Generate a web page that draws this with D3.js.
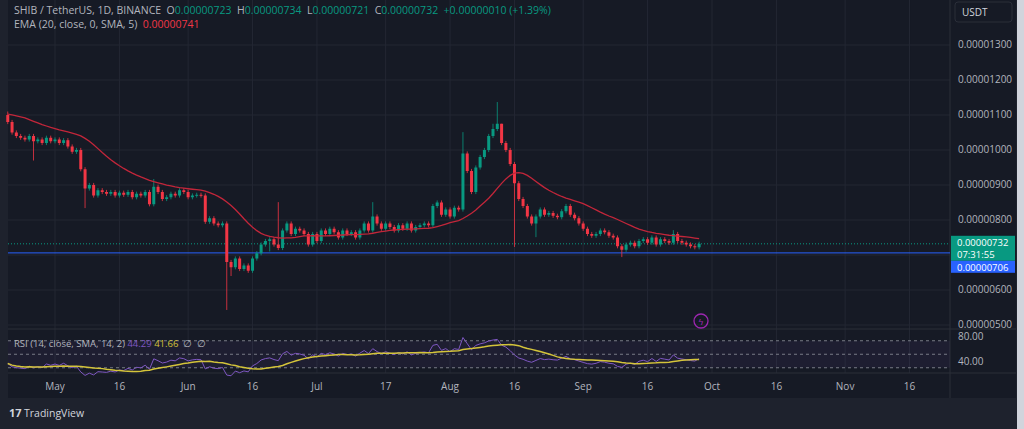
<!DOCTYPE html>
<html><head><meta charset="utf-8">
<script src="https://cdn.jsdelivr.net/npm/d3@7"></script>
<style>body{margin:0;background:#1e222d;}svg{display:block;font-family:"Open Sans",Roboto,sans-serif;}text{white-space:pre;}</style>
</head><body><svg id="c" width="1024" height="429"></svg>
<script>
// prices in units of 1e-8 USDT, one daily candle from 2023-04-20
const startDate = new Date(2023, 3, 20);
const closes = [1080,1050,1040,1035, 1030,1040,1025,1030,1020,1035,1025,1030,1020,1028,
  1010,995,1000,945,890,900,870,885, 880,875,880,870,878,872,880,865,875,870,880,
  845,895, 880,860,865,875,870,885,880,865,870,872, 870,795, 805,790,785,790, 680,
  665,690,660,670,655, 690,705,730,740, 745,730,720,770, 790,760,775,770,760,
  730,760,740,770,760, 775,765,750,770,760,765,750,770, 790,770,810,790,
  775,790,780,770,785,775,790,770,780,785,790, 785,840,850,815,830,810,835,
  830,990,940,880, 950,980,1000,1040, 1060,1075, 1020,1000,960,905,
  860,840,810,790,810, 830,815,820,812,808, 825,840,815,805, 790,775,760,755,760,
  770,765,755,750, 725,715,730,735,725,740,745, 735,750,730,745,740,735,760,
  740,735,730,725,722,732];
const firstOpen = 1100;
// notable wicks [index, value]
const highs = [[0,1110],[34,917],[63,851],[85,851],[106,1051],[114,1137],[113,1075],[155,771],[115,1075]];
const lows = [[6,970],[18,834],[51,543],[52,640],[118,723],[123,751],[143,694],[61,710]];
const priceTicks = [500,600,800,900,1000,1100,1200,1300];
const monthTicks = [["May",new Date(2023,4,1)],["16",new Date(2023,4,16)],["Jun",new Date(2023,5,1)],["16",new Date(2023,5,16)],
  ["Jul",new Date(2023,6,1)],["17",new Date(2023,6,17)],["Aug",new Date(2023,7,1)],["16",new Date(2023,7,16)],
  ["Sep",new Date(2023,8,1)],["16",new Date(2023,8,16)],["Oct",new Date(2023,9,1)],["16",new Date(2023,9,16)],
  ["Nov",new Date(2023,10,1)],["16",new Date(2023,10,16)]];
const lastPrice = 732, lowLine = 706;
const emaSeed = 1105;

const UP = "#089981", DN = "#f23645", BG = "#161a25", GRID = "#232733", TXT = "#b2b5be";
const svg = d3.select("#c");
svg.append("rect").attr("width",1024).attr("height",429).attr("fill","#1e222d");
svg.append("rect").attr("x",8).attr("y",0).attr("width",1008).attr("height",398).attr("fill",BG);
svg.append("rect").attr("x",1017).attr("y",0).attr("width",7).attr("height",429).attr("fill","#d1d4dc");

const x = d3.scaleTime().domain([new Date(2023,4,1), new Date(2023,9,1)]).range([55,712]);
const y = d3.scaleLinear().domain([500,1300]).range([325,45]);
const yR = d3.scaleLinear().domain([40,80]).range([361,334]);
const day = i => d3.timeDay.offset(startDate, i);

// candles
const hiMap = new Map(highs), loMap = new Map(lows);
const candles = closes.map((c,i) => {
  const o = i === 0 ? firstOpen : closes[i-1];
  const h = hiMap.get(i) ?? Math.max(o,c) + 6;
  const l = loMap.get(i) ?? Math.min(o,c) - 6;
  return {i, o, c, h, l, d: day(i)};
});

// EMA 20 + SMA 5 smoothing
const a = 2/21; let e = emaSeed;
const emaRaw = closes.map(c => (e = e + a*(c - e)));
const ema = emaRaw.map((v,i) => d3.mean(emaRaw.slice(Math.max(0,i-4), i+1)));

// RSI 14 (Wilder) + SMA 14
let ag = 6, al = 9;
const rsi = closes.map((c,i) => {
  const ch = i === 0 ? c - firstOpen : c - closes[i-1];
  ag = (ag*13 + Math.max(ch,0))/14; al = (al*13 + Math.max(-ch,0))/14;
  return 100 - 100/(1 + ag/al);
});
const rsiMa = rsi.map((v,i) => d3.mean(rsi.slice(Math.max(0,i-13), i+1)));

// grid
const g = svg.append("g");
g.selectAll(".vg").data(monthTicks).join("line").attr("x1",d=>x(d[1])).attr("x2",d=>x(d[1]))
  .attr("y1",0).attr("y2",373).attr("stroke",GRID);
g.selectAll(".hg").data(priceTicks.concat([700])).join("line").attr("x1",8).attr("x2",950)
  .attr("y1",d=>y(d)).attr("y2",d=>y(d)).attr("stroke",GRID);
svg.append("line").attr("x1",950).attr("x2",950).attr("y1",0).attr("y2",398).attr("stroke","#2a2e39");
svg.append("line").attr("x1",8).attr("x2",1016).attr("y1",329).attr("y2",329).attr("stroke","#2a2e39");
svg.append("line").attr("x1",8).attr("x2",1016).attr("y1",373).attr("y2",373).attr("stroke","#2a2e39");

// price lines
svg.append("line").attr("x1",8).attr("x2",950).attr("y1",y(lowLine)).attr("y2",y(lowLine)).attr("stroke","#2962ff").attr("stroke-width",1);
svg.append("line").attr("x1",8).attr("x2",950).attr("y1",y(lastPrice)).attr("y2",y(lastPrice)).attr("stroke",UP).attr("stroke-dasharray","1,2");

// candles draw
const cg = svg.append("g");
cg.selectAll("line").data(candles).join("line")
  .attr("x1",d=>x(d.d)).attr("x2",d=>x(d.d)).attr("y1",d=>y(d.h)).attr("y2",d=>y(d.l))
  .attr("stroke",d=>d.c>=d.o?UP:DN).attr("stroke-opacity",0.8);
cg.selectAll("rect").data(candles).join("rect")
  .attr("x",d=>x(d.d)-1.5).attr("width",3)
  .attr("y",d=>y(Math.max(d.o,d.c))).attr("height",d=>Math.max(1,Math.abs(y(d.o)-y(d.c))))
  .attr("fill",d=>d.c>=d.o?UP:DN);

svg.append("path").datum(ema).attr("fill","none").attr("stroke","#c2263a").attr("stroke-width",1.3)
  .attr("d",d3.line().x((v,i)=>x(day(i))).y(v=>y(v)));

// price axis
svg.selectAll(".pt").data(priceTicks).join("text").attr("x",958).attr("y",d=>y(d)+3)
  .attr("fill",TXT).attr("font-size",10).text(d=>(d/1e8).toFixed(8));
svg.append("rect").attr("x",955).attr("y",2).attr("width",57).attr("height",20).attr("rx",3)
  .attr("fill",BG).attr("stroke","#2a2e39");
svg.append("text").attr("x",962).attr("y",16).attr("fill","#d1d4dc").attr("font-size",10).text("USDT");
svg.append("rect").attr("x",951).attr("y",y(lastPrice)-8).attr("width",64).attr("height",25).attr("fill",UP);
svg.append("text").attr("x",957).attr("y",y(lastPrice)+2).attr("fill","#fff").attr("font-size",9.5).text((lastPrice/1e8).toFixed(8));
svg.append("text").attr("x",957).attr("y",y(lastPrice)+14).attr("fill","#fff").attr("font-size",9.5).text("07:31:55");
svg.append("rect").attr("x",951).attr("y",y(lastPrice)+17).attr("width",64).attr("height",12).attr("fill","#2962ff");
svg.append("text").attr("x",957).attr("y",y(lastPrice)+27).attr("fill","#fff").attr("font-size",9.5).text((lowLine/1e8).toFixed(8));

// RSI pane
svg.append("rect").attr("x",8).attr("y",yR(70)).attr("width",942).attr("height",yR(30)-yR(70)).attr("fill","#7e57c2").attr("fill-opacity",0.08);
[70,50,30].forEach(v => svg.append("line").attr("x1",8).attr("x2",950).attr("y1",yR(v)).attr("y2",yR(v))
  .attr("stroke","#787b86").attr("stroke-dasharray","3,3"));
svg.append("path").datum(rsi).attr("fill","none").attr("stroke","#7e57c2").attr("stroke-width",1)
  .attr("d",d3.line().x((v,i)=>x(day(i))).y(v=>yR(v)));
svg.append("path").datum(rsiMa).attr("fill","none").attr("stroke","#d4c43a").attr("stroke-width",1.5)
  .attr("d",d3.line().x((v,i)=>x(day(i))).y(v=>yR(v)));
[80,40].forEach(v => svg.append("text").attr("x",958).attr("y",yR(v)+(v===80?6:4)).attr("fill",TXT).attr("font-size",10).text(v.toFixed(2)));
const rl = svg.append("text").attr("x",14).attr("y",347).attr("font-size",9.5).attr("fill",TXT);
rl.append("tspan").text("RSI (14, close, SMA, 14, 2) ");
rl.append("tspan").attr("fill","#7e57c2").text("44.29 ");
rl.append("tspan").attr("fill","#d4c43a").text("41.66 ");
rl.append("tspan").text(" ∅  ∅");

// time axis
svg.selectAll(".tt").data(monthTicks).join("text").attr("x",d=>x(d[1])).attr("y",390)
  .attr("text-anchor","middle").attr("fill",TXT).attr("font-size",10).text(d=>d[0]);

// lightning icon
svg.append("circle").attr("cx",701).attr("cy",321).attr("r",7).attr("fill","none").attr("stroke","#9c27b0").attr("stroke-width",1.3);
svg.append("text").attr("x",701).attr("y",325).attr("text-anchor","middle").attr("fill","#9c27b0").attr("font-size",9).text("ϟ");

// header
const h1 = svg.append("text").attr("x",14).attr("y",14).attr("font-size",10.5).attr("fill",TXT);
h1.append("tspan").text("SHIB / TetherUS, 1D, BINANCE  O");
[["0.00000723","  H"],["0.00000734","  L"],["0.00000721","  C"],["0.00000732","  "],["+0.00000010 (+1.39%)",""]].forEach(([v,l]) => {
  h1.append("tspan").attr("fill",UP).text(v); if (l) h1.append("tspan").text(l);
});
const h2 = svg.append("text").attr("x",14).attr("y",28).attr("font-size",10.5).attr("fill",TXT);
h2.append("tspan").text("EMA (20, close, 0, SMA, 5)  ");
h2.append("tspan").attr("fill",DN).text("0.00000741");

// footer logo
svg.append("text").attr("x",9).attr("y",417).attr("fill","#d1d4dc").attr("font-size",11).attr("font-weight","bold").text("17");
svg.append("text").attr("x",24).attr("y",417).attr("fill","#d1d4dc").attr("font-size",10.5).text("TradingView");
</script></body></html>
